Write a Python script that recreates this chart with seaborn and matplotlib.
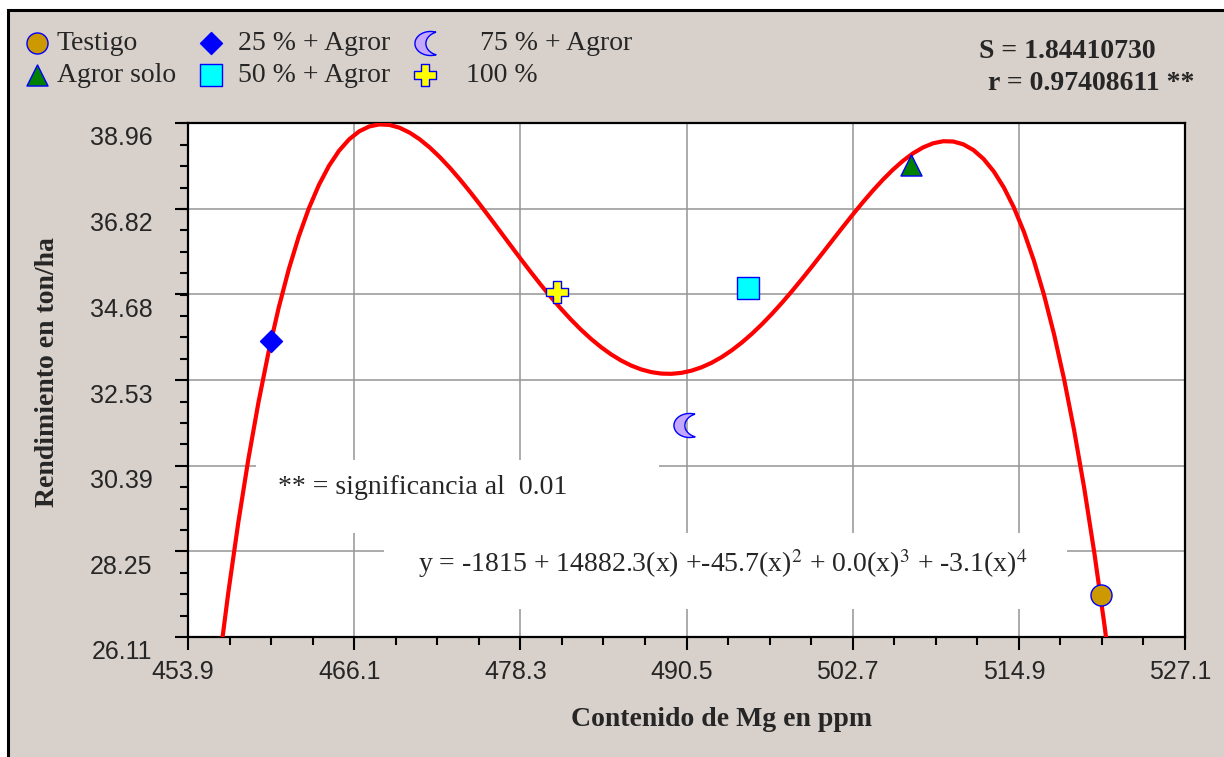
import numpy as np
import matplotlib
matplotlib.use("Agg")
import matplotlib.pyplot as plt
import seaborn as sns
from matplotlib.patches import Rectangle
from matplotlib.ticker import AutoMinorLocator
from matplotlib.transforms import ScaledTranslation

# ---------------- data ----------------
treatments = ["Testigo", "Agror solo", "25 % + Agror", "50 % + Agror", "75 % + Agror", "100 %"]
mg_ppm = [520.9, 507.0, 460.0, 495.0, 490.3, 481.0]
yield_t = [27.16, 37.91, 33.51, 34.84, 31.41, 34.74]
x_ticks = [453.9, 466.1, 478.3, 490.5, 502.7, 514.9, 527.1]
x_tick_labels = ["453.9", "466.1", "478.3", "490.5", "502.7", "514.9", "527.1"]
y_ticks = [26.11, 28.25, 30.39, 32.53, 34.68, 36.82, 38.96]
y_tick_labels = ["26.11", "28.25", "30.39", "32.53", "34.68", "36.82", "38.96"]
legend_labels = ["Testigo", "Agror solo", " 25 % + Agror", " 50 % + Agror",
                 "     75 % + Agror", "   100 %"]
stat_s = "S = 1.84410730"
stat_r = "r = 0.97408611 **"
sig_note = "** = significancia al  0.01"
equation = r"y = -1815 + 14882.3(x) +-45.7(x)$^2$ + 0.0(x)$^3$ + -3.1(x)$^4$"

# ---------------- styles ----------------
face_colors = ["#CC9900", "#008000", "#0000FF", "#00FFFF", "#C4A8FF", "#FFFF00"]
d = 0.7
a0 = np.degrees(np.arctan2(np.sqrt(1 - (d / 2) ** 2), d / 2))
th_out = np.linspace(np.radians(a0), np.radians(360 - a0), 40)
th_in = np.linspace(np.radians(180 + a0), np.radians(180 - a0), 40)
cx = np.r_[np.cos(th_out), d + np.cos(th_in)]
cy = np.r_[np.sin(th_out), np.sin(th_in)]
cx = (cx - (cx.min() + cx.max()) / 2) * 1.3
crescent = np.c_[cx, cy]
markers = ["o", "^", "D", "s", crescent, "P"]
sizes = [230, 230, 125, 240, 300, 230]

sns.set_theme(style="white")
plt.rcParams["font.family"] = ["Liberation Serif", "DejaVu Serif"]
plt.rcParams["mathtext.fontset"] = "stix"

W, H = 1224, 757
fig = plt.figure(figsize=(W / 100, H / 100), dpi=100, facecolor="white")
fig.patches.append(Rectangle((8 / W, -0.05), 1.2, 1 - 10 / H + 0.05,
                             transform=fig.transFigure, facecolor="#D8D0CA",
                             edgecolor="black", lw=2.2, zorder=-10))

L, R, T, B = 188, 1185, 123, 637
ax = fig.add_axes([L / W, 1 - B / H, (R - L) / W, (B - T) / H])
ax.set_facecolor("white")

ax.set_xlim(x_ticks[0], x_ticks[-1])
ax.set_ylim(y_ticks[0], y_ticks[-1])

# fitted 4th-degree polynomial regression line
sns.regplot(x=mg_ppm, y=yield_t, order=4, ci=None, scatter=False, truncate=False,
            ax=ax, line_kws=dict(color="#FF0000", lw=3, zorder=3, solid_capstyle="butt"))

for i in range(len(treatments)):
    sns.scatterplot(x=[mg_ppm[i]], y=[yield_t[i]], marker=markers[i], s=sizes[i],
                    color=face_colors[i], edgecolor="#0000FF", linewidth=1,
                    label=legend_labels[i], ax=ax, zorder=5, legend=False)
if ax.get_legend() is not None:
    ax.get_legend().remove()

ax.set_xlim(x_ticks[0], x_ticks[-1])
ax.set_ylim(y_ticks[0], y_ticks[-1])
ax.set_xticks(x_ticks)
ax.set_xticklabels(x_tick_labels)
ax.set_yticks(y_ticks)
ax.set_yticklabels(y_tick_labels)
ax.xaxis.set_minor_locator(AutoMinorLocator(4))
ax.yaxis.set_minor_locator(AutoMinorLocator(4))
ax.tick_params(which="major", direction="out", length=9.5, width=1.5, color="black",
               labelsize=18, bottom=True, left=True)
ax.tick_params(axis="x", which="major", pad=7)
ax.tick_params(axis="y", which="major", pad=16)
ax.tick_params(which="minor", direction="out", length=6, width=1.5, color="black",
               bottom=True, left=True)
for tk in ax.xaxis.get_major_ticks():
    tk.label1.set_family(["Liberation Sans", "DejaVu Sans"])
    tk.label1.set_transform(tk.label1.get_transform()
                            + ScaledTranslation(-5 / 100, 0, fig.dpi_scale_trans))
for tk in ax.yaxis.get_major_ticks():
    tk.label1.set_family(["Liberation Sans", "DejaVu Sans"])
    tk.label1.set_transform(tk.label1.get_transform()
                            + ScaledTranslation(0, -13 / 100, fig.dpi_scale_trans))
ax.grid(True, which="major", color="#959595", lw=1.1)
ax.set_axisbelow(True)
for sp in ax.spines.values():
    sp.set_color("black")
    sp.set_linewidth(1.6)
    sp.set_visible(True)

# white boxes behind notes (they hide the grid lines)
def ax_box(x0, y0, x1, y1):
    return Rectangle(((x0 - L) / (R - L), (B - y1) / (B - T)),
                     (x1 - x0) / (R - L), (y1 - y0) / (B - T),
                     transform=ax.transAxes, facecolor="white", edgecolor="none", zorder=1)

ax.add_patch(ax_box(256, 460, 659, 533))
ax.add_patch(ax_box(384, 533, 1067, 609))
ax.text((278 - L) / (R - L), (B - 488) / (B - T), sig_note, transform=ax.transAxes,
        fontsize=20, ha="left", va="center", zorder=4)
ax.text((418 - L) / (R - L), (B - 572) / (B - T), equation, transform=ax.transAxes,
        fontsize=20, ha="left", va="baseline", zorder=4)

ax.set_xlabel("Contenido de Mg en ppm", fontsize=20, fontweight="bold")
ax.set_ylabel("Rendimiento en ton/ha", fontsize=20, fontweight="bold")
ax.xaxis.label.set_va("center")
ax.yaxis.label.set_va("center")
ax.xaxis.set_label_coords((722 - L) / (R - L), (B - 720) / (B - T))
ax.yaxis.set_label_coords((48 - L) / (R - L), (B - 372) / (B - T))

fig.text(979 / W, 1 - 52 / H, stat_s, fontsize=20, fontweight="bold", ha="left", va="center")
fig.text(988 / W, 1 - 84 / H, stat_r, fontsize=20, fontweight="bold", ha="left", va="center")

handles, labels = ax.get_legend_handles_labels()
fig.legend(handles, labels, ncol=3, loc="upper left", bbox_to_anchor=(23 / W, 1 - 31 / H),
           frameon=False, fontsize=20, handlelength=1.0, handletextpad=0.22,
           columnspacing=0.76, labelspacing=0.23, borderpad=0, borderaxespad=0,
           markerscale=1.0)

fig.savefig("out.png", dpi=100, facecolor="white")
